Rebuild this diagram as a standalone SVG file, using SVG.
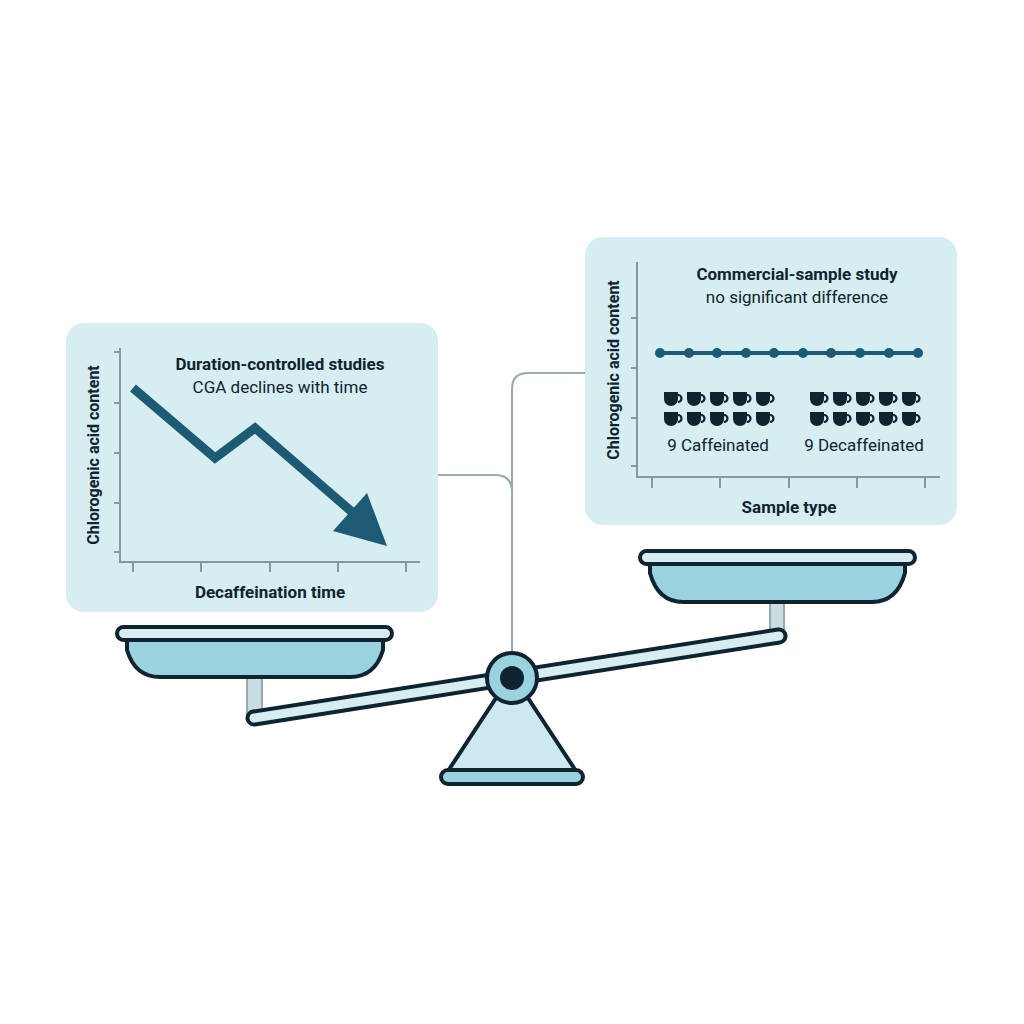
<svg xmlns="http://www.w3.org/2000/svg" width="1024" height="1024" viewBox="0 0 1024 1024">
<style>
.panel{fill:#d6edf2}
.ax{stroke:#8a979b;stroke-width:2;fill:none}
.t{font-family:Roboto,"Liberation Sans",sans-serif;fill:#0f2430}
.b{font-weight:bold}
.dk{stroke:#0f2430;stroke-width:4;stroke-linejoin:round}
.cn{stroke:#9aa9ad;stroke-width:2;fill:none}
</style>
<defs>
<g id="cup"><path d="M-8,-7 h14 v7 a7,7 0 0 1 -14,0 z" fill="#0f2430"/><path d="M6,-4 a3.5,3.5 0 0 1 0,7" stroke="#0f2430" stroke-width="2.2" fill="none"/></g>
</defs>
<rect width="1024" height="1024" fill="#fff"/>
<g id="connectors">
<path class="cn" d="M438,475 H495 Q512,475 512,492 V655"/>
<path class="cn" d="M585,373 H528 Q512,373 512,389 V492"/>
</g>
<g id="left-panel">
<rect class="panel" x="66" y="323" width="372" height="289" rx="18"/>
<path class="ax" d="M120,348 V562 H420 M114,352 H120 M114,403 H120 M114,453 H120 M114,503 H120 M114,552 H120 M133,562 V572 M201,562 V572 M270,562 V572 M338,562 V572 M406,562 V572"/>
<text class="t b" x="0" y="0" font-size="16" text-anchor="middle" transform="translate(99,455) rotate(-90)">Chlorogenic acid content</text>
<text class="t b" x="280" y="370" font-size="17" text-anchor="middle">Duration-controlled studies</text>
<text class="t" x="280" y="393" font-size="17" text-anchor="middle">CGA declines with time</text>
<polyline points="133,388 215,458 255,428 352,512" fill="none" stroke="#1d5a73" stroke-width="9"/>
<polygon points="387,546 333,531 367,493" fill="#1d5a73"/>
<text class="t b" x="270" y="598" font-size="17" text-anchor="middle">Decaffeination time</text>
</g>
<g id="right-panel">
<rect class="panel" x="585" y="237" width="372" height="288" rx="18"/>
<path class="ax" d="M637,262 V477 H940 M631,318 H637 M631,368 H637 M631,418 H637 M631,466 H637 M652,477 V488 M720,477 V488 M789,477 V488 M857,477 V488 M925,477 V488"/>
<text class="t b" x="0" y="0" font-size="16" text-anchor="middle" transform="translate(619,370) rotate(-90)">Chlorogenic acid content</text>
<text class="t b" x="797" y="280" font-size="17" text-anchor="middle">Commercial-sample study</text>
<text class="t" x="797" y="303" font-size="17" text-anchor="middle">no significant difference</text>
<g fill="#1d5a73"><line x1="660" y1="353" x2="918" y2="353" stroke="#1d5a73" stroke-width="4"/>
<circle cx="660" cy="353" r="5"/><circle cx="689" cy="353" r="5"/><circle cx="717" cy="353" r="5"/><circle cx="746" cy="353" r="5"/><circle cx="774" cy="353" r="5"/><circle cx="803" cy="353" r="5"/><circle cx="831" cy="353" r="5"/><circle cx="860" cy="353" r="5"/><circle cx="889" cy="353" r="5"/><circle cx="918" cy="353" r="5"/></g>
<use href="#cup" x="672" y="399"/><use href="#cup" x="695" y="399"/><use href="#cup" x="718" y="399"/><use href="#cup" x="741" y="399"/><use href="#cup" x="764" y="399"/>
<use href="#cup" x="672" y="419"/><use href="#cup" x="695" y="419"/><use href="#cup" x="718" y="419"/><use href="#cup" x="741" y="419"/><use href="#cup" x="764" y="419"/>
<use href="#cup" x="818" y="399"/><use href="#cup" x="841" y="399"/><use href="#cup" x="864" y="399"/><use href="#cup" x="887" y="399"/><use href="#cup" x="910" y="399"/>
<use href="#cup" x="818" y="419"/><use href="#cup" x="841" y="419"/><use href="#cup" x="864" y="419"/><use href="#cup" x="887" y="419"/><use href="#cup" x="910" y="419"/>
<text class="t" x="718" y="451" font-size="17" text-anchor="middle">9 Caffeinated</text>
<text class="t" x="864" y="451" font-size="17" text-anchor="middle">9 Decaffeinated</text>
<text class="t b" x="789" y="513" font-size="17" text-anchor="middle">Sample type</text>
</g>
<g id="scale">
<rect x="247" y="676" width="15" height="40" fill="#c9dde2" stroke="#9aa9ad" stroke-width="2"/>
<rect x="770" y="601" width="14" height="34" fill="#c9dde2" stroke="#9aa9ad" stroke-width="2"/>
<path class="dk" d="M127,640 H383 V650 Q375,677 350,677 H160 Q135,677 127,650 Z" fill="#9ad3df"/>
<rect class="dk" x="117" y="627" width="275" height="13" rx="6.5" fill="#d6edf2"/>
<path class="dk" d="M650,563 H905 V573 Q897,602 872,602 H683 Q658,602 650,573 Z" fill="#9ad3df"/>
<rect class="dk" x="640" y="551" width="275" height="13" rx="6.5" fill="#d6edf2"/>
<polygon class="dk" points="498,695 526,695 576,771 448,771" fill="#cde9ef"/>
<rect class="dk" x="441" y="770" width="142" height="14" rx="7" fill="#9ad3df"/>
<line x1="254" y1="718" x2="779" y2="636" stroke="#0f2430" stroke-width="17" stroke-linecap="round"/>
<line x1="254" y1="718" x2="779" y2="636" stroke="#d6edf2" stroke-width="9" stroke-linecap="round"/>
<circle class="dk" cx="512" cy="678" r="25" fill="#9ad3df"/>
<circle cx="512" cy="678" r="12" fill="#0f2430"/>
</g>
</svg>
